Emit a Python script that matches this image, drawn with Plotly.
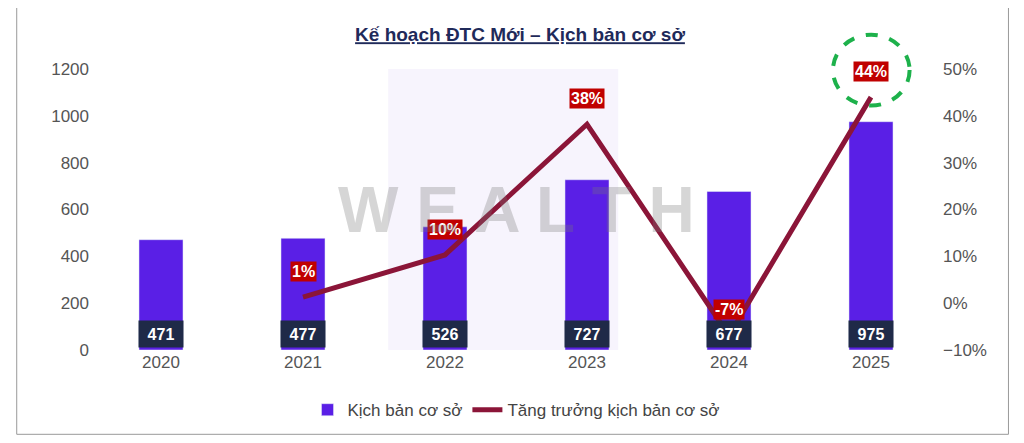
import plotly.graph_objects as go

years = ["2020", "2021", "2022", "2023", "2024", "2025"]
base_plan = [471, 477, 526, 727, 677, 975]
growth = [None, 1.3, 10.3, 38.2, -6.9, 44.0]
growth_labels = ["", "1%", "10%", "38%", "-7%", "44%"]

fig = go.Figure()

fig.add_trace(go.Bar(x=years, y=base_plan, name="Kịch bản cơ sở",
                     marker_color="#5A1FE6", width=0.31))
fig.add_trace(go.Scatter(x=years, y=growth, name="Tăng trưởng kịch bản cơ sở",
                         mode="lines", line=dict(color="#8B1538", width=5),
                         yaxis="y2"))

# value boxes at the bottom of each bar (category index positions)
for i, v in enumerate(base_plan):
    fig.add_annotation(x=i, y=8, yref="y", text="<b>%d</b>" % v, showarrow=False,
                       yanchor="bottom", bgcolor="#1F2A48", font=dict(color="white", size=16),
                       width=42, height=24)

# growth labels
for i, (g, t) in enumerate(zip(growth, growth_labels)):
    if g is None:
        continue
    fig.add_annotation(x=i, y=g + 5.5, yref="y2", text="<b>%s</b>" % t, showarrow=False,
                       bgcolor="#C00000", font=dict(color="white", size=16))

# green dashed circle around 2025 label (paper refs so it is not clipped)
fig.add_shape(type="circle", xref="paper", yref="paper", x0=0.872, x1=0.962, y0=0.87, y1=1.122,
              line=dict(color="#1DB14B", width=4, dash="dash"))

# watermark
fig.add_shape(type="rect", xref="paper", yref="paper", x0=0.35, x1=0.62, y0=0.0, y1=1.0,
              fillcolor="rgba(150,120,230,0.08)", line_width=0, layer="below")
fig.add_annotation(x=0.5, y=0.5, xref="paper", yref="paper", text="<b>W E A L T H</b>",
                   showarrow=False, font=dict(size=64, color="rgba(120,120,120,0.3)",
                                              family="Arial"))

fig.update_layout(
    width=1024, height=443,
    paper_bgcolor="white", plot_bgcolor="white",
    margin=dict(l=82, r=90, t=61, b=101),
    title=dict(text="<b><u>Kế hoạch ĐTC Mới – Kịch bản cơ sở</u></b>", x=0.5, y=0.955,
               xanchor="center", font=dict(size=19, color="#1F2A5A", family="Arial")),
    font=dict(family="Arial", size=17, color="#555555"),
    xaxis=dict(type="category", range=[-0.5, 5.5], showgrid=False, showline=False),
    yaxis=dict(range=[0, 1200], dtick=200, showgrid=False, zeroline=False),
    yaxis2=dict(range=[-10, 50], dtick=10, ticksuffix="%", overlaying="y", side="right",
                showgrid=False, zeroline=False),
    legend=dict(orientation="h", x=0.5, xanchor="center", y=-0.15, yanchor="top",
                font=dict(size=17, color="#444444")),
)
fig.add_shape(type="rect", xref="paper", yref="paper", x0=-0.086, x1=1.078, y0=-0.30, y1=1.23,
              line=dict(color="#999999", width=1))

fig.write_html("out.html")
